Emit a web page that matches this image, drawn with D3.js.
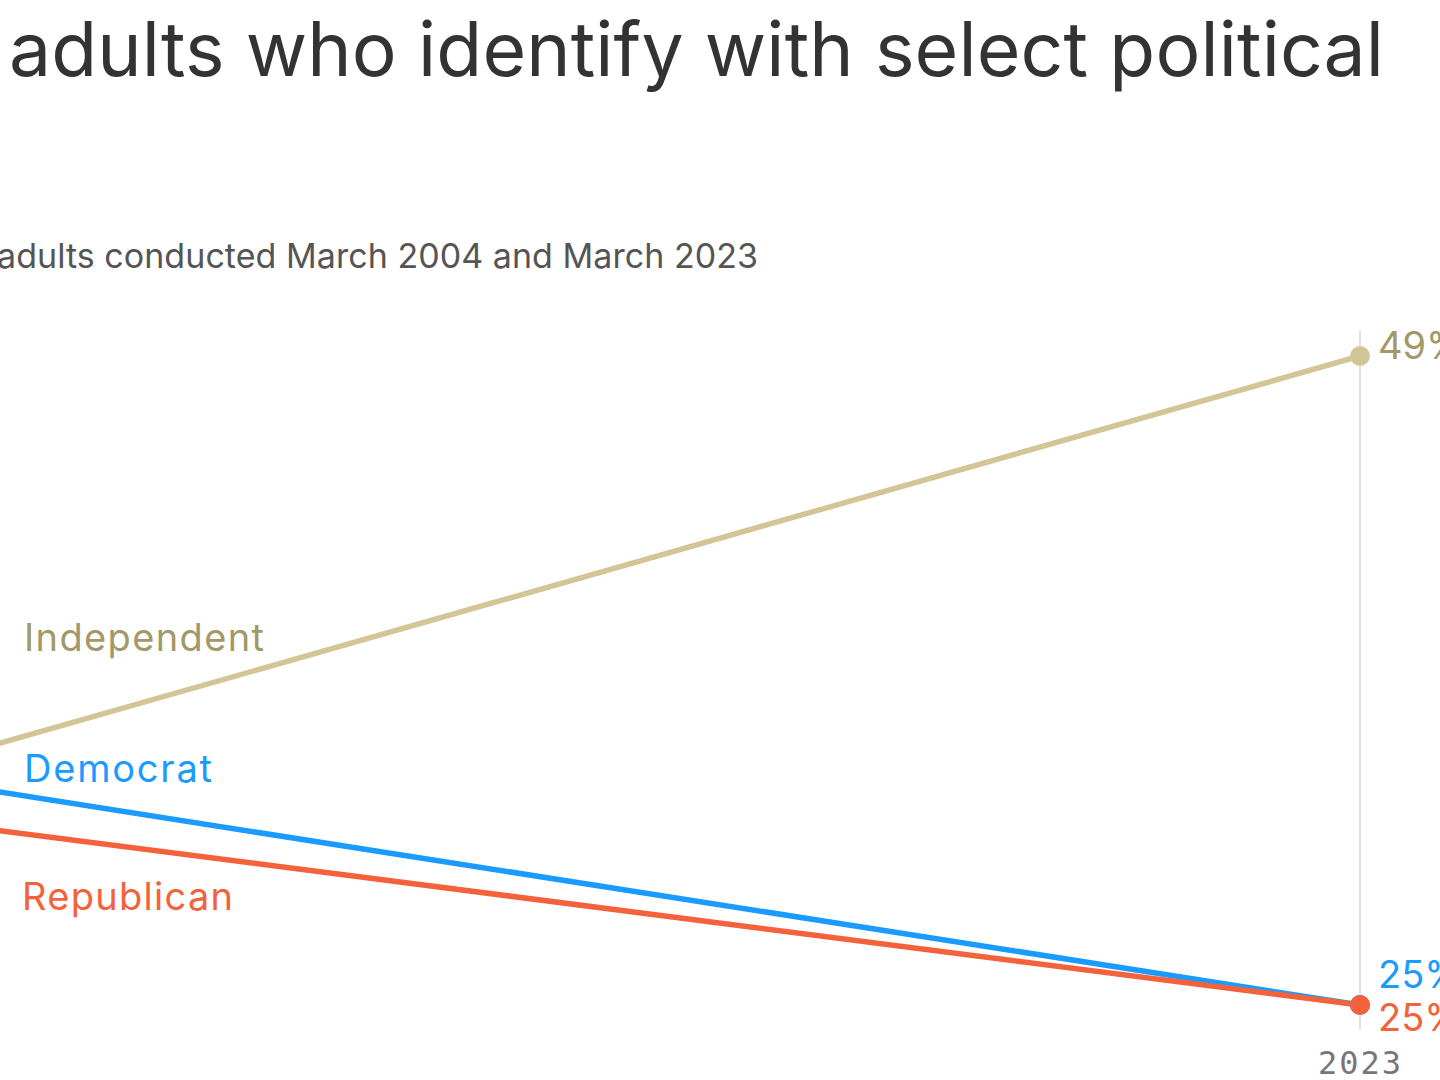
<!DOCTYPE html>
<html>
<head>
<meta charset="utf-8">
<script src="https://cdn.jsdelivr.net/npm/d3@7"></script>
<style>
  html, body { margin: 0; padding: 0; background: #fff; }
  svg { display: block; overflow: hidden; }
</style>
</head>
<body>
<svg id="chart" width="1440" height="1080"></svg>
<script>
// ---- data ----
const years = [2004, 2023];
const parties = ["Independent", "Democrat", "Republican"];
const independent = [29, 49];
const democrat = [36, 25];
const republican = [34, 25];
const xTickYears = [2023];
const xTickLabels = ["2023"];
const titleText = "adults who identify with select political";
const subtitleText = "adults conducted March 2004 and March 2023";

// ---- styles / layout ----
const lineColors = { Independent: "#d2c696", Democrat: "#1b9bff", Republican: "#f4623c" };
const textColors = { Independent: "#a39867", Democrat: "#1b9bff", Republican: "#f4623c" };
const nameLabelPos = {
  Independent: { x: 24, y: 651, w: 240 },
  Democrat: { x: 24, y: 782, w: 188 },
  Republican: { x: 22, y: 910, w: 211 }
};
const valueLabelDy = { Independent: 3, Democrat: -17, Republican: 26 };

const svg = d3.select("#chart");
const font = "Inter, 'Liberation Sans', Arial, sans-serif";

const x = d3.scaleLinear().domain([2004, 2023]).range([-540, 1360]);
const y = d3.scaleLinear().domain([25, 49]).range([1005, 356]);

// title & subtitle
svg.append("text")
  .attr("x", 9).attr("y", 76)
  .attr("font-family", font).attr("font-size", 75)
  .attr("fill", "#333")
  .attr("textLength", 1375).attr("lengthAdjust", "spacing")
  .text(titleText);

svg.append("text")
  .attr("x", -3).attr("y", 268)
  .attr("font-family", font).attr("font-size", 34)
  .attr("fill", "#555")
  .attr("textLength", 761).attr("lengthAdjust", "spacing")
  .text(subtitleText);

// gridlines at ticks
svg.append("g").selectAll("line")
  .data(xTickYears)
  .join("line")
  .attr("x1", d => x(d)).attr("x2", d => x(d))
  .attr("y1", 330).attr("y2", 1030)
  .attr("stroke", "#e2e2e2").attr("stroke-width", 2);

// x axis labels
const xAxis = d3.axisBottom(x)
  .tickValues(xTickYears)
  .tickFormat((d, i) => xTickLabels[i])
  .tickSize(0);
const axG = svg.append("g").attr("transform", "translate(0,1040)").call(xAxis);
axG.select(".domain").remove();
axG.selectAll("text")
  .attr("font-family", "'DejaVu Sans Mono', monospace")
  .attr("font-size", 32)
  .attr("letter-spacing", 2)
  .attr("fill", "#777")
  .attr("dy", "0.98em");

// series
const seriesData = {
  Independent: independent,
  Democrat: democrat,
  Republican: republican
};
const series = parties.map(p => ({
  name: p,
  values: years.map((yr, i) => ({ year: yr, value: seriesData[p][i] }))
}));

const line = d3.line().x(d => x(d.year)).y(d => y(d.value));

const gS = svg.append("g");
gS.selectAll("path")
  .data(series)
  .join("path")
  .attr("d", d => line(d.values))
  .attr("fill", "none")
  .attr("stroke", d => lineColors[d.name])
  .attr("stroke-width", 5.5)
  .attr("stroke-linecap", "round");

gS.selectAll("g.dots")
  .data(series)
  .join("g").attr("class", "dots")
  .selectAll("circle")
  .data(d => d.values.map(v => ({ ...v, name: d.name })))
  .join("circle")
  .attr("cx", d => x(d.year)).attr("cy", d => y(d.value))
  .attr("r", 10)
  .attr("fill", d => lineColors[d.name]);

// value labels at end
svg.append("g").selectAll("text")
  .data(series)
  .join("text")
  .attr("x", d => x(d.values[1].year) + 18)
  .attr("y", d => y(d.values[1].value) + valueLabelDy[d.name])
  .attr("font-family", font).attr("font-size", 38)
  .attr("fill", d => textColors[d.name])
  .text(d => d.values[1].value + "%");

// series name labels
svg.append("g").selectAll("text")
  .data(series)
  .join("text")
  .attr("x", d => nameLabelPos[d.name].x)
  .attr("y", d => nameLabelPos[d.name].y)
  .attr("font-family", font).attr("font-size", 38)
  .attr("fill", d => textColors[d.name])
  .attr("textLength", d => nameLabelPos[d.name].w).attr("lengthAdjust", "spacing")
  .text(d => d.name);
</script>
</body>
</html>
